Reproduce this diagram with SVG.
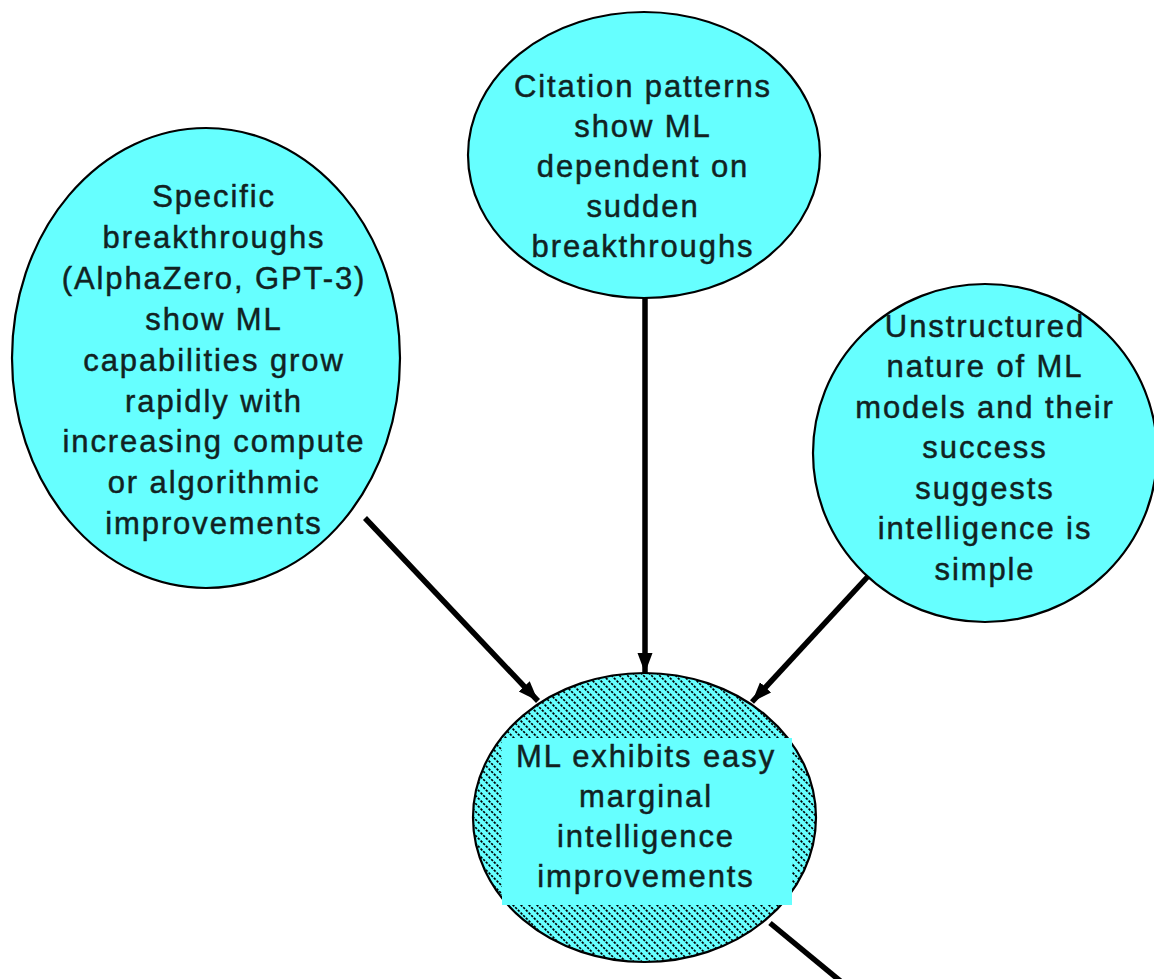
<svg xmlns="http://www.w3.org/2000/svg" width="1154" height="979" viewBox="0 0 1154 979">
<style>
.node{fill:#66ffff;stroke:#000;stroke-width:2.2}
.lbl{font-family:"Liberation Sans",Arial,sans-serif;font-size:31px;letter-spacing:1.9px;fill:#112222;stroke:#112222;stroke-width:0.45;text-anchor:middle}
.conn{stroke:#000;stroke-width:5.5;fill:none}
</style>
<defs>
<pattern id="hatch" patternUnits="userSpaceOnUse" width="8" height="8">
<rect width="8" height="8" fill="#66ffff"/>
<path d="M-2,-2 L10,10 M-2,6 L2,10 M6,-2 L10,2" stroke="#000" stroke-width="1.7" stroke-dasharray="2.4,1.3"/>
</pattern>
<marker id="arr" markerUnits="userSpaceOnUse" markerWidth="22" markerHeight="22" viewBox="0 0 22 22" refX="20" refY="11" orient="auto">
<path d="M0,3.5 L20,11 L0,18.5 Z" fill="#000"/>
</marker>
</defs>
<rect width="1154" height="979" fill="#fff"/>
<g id="connectors">
<line class="conn" x1="365" y1="518" x2="538" y2="701" marker-end="url(#arr)"/>
<line class="conn" x1="645" y1="298" x2="645" y2="673" marker-end="url(#arr)"/>
<line class="conn" x1="872" y1="572" x2="752" y2="702" marker-end="url(#arr)"/>
<line class="conn" x1="770" y1="923" x2="850" y2="989"/>
</g>
<g id="n-left">
<ellipse class="node" cx="206" cy="358" rx="194" ry="230"/>
<text class="lbl"><tspan x="214" y="207">Specific</tspan><tspan x="214" y="248">breakthroughs</tspan><tspan x="214" y="289">(AlphaZero, GPT-3)</tspan><tspan x="214" y="330">show ML</tspan><tspan x="214" y="371">capabilities grow</tspan><tspan x="214" y="412">rapidly with</tspan><tspan x="214" y="452">increasing compute</tspan><tspan x="214" y="493">or algorithmic</tspan><tspan x="214" y="534">improvements</tspan></text>
</g>
<g id="n-top">
<ellipse class="node" cx="644" cy="155" rx="176" ry="143"/>
<text class="lbl"><tspan x="643" y="97">Citation patterns</tspan><tspan x="643" y="137">show ML</tspan><tspan x="643" y="177">dependent on</tspan><tspan x="643" y="217">sudden</tspan><tspan x="643" y="257">breakthroughs</tspan></text>
</g>
<g id="n-right">
<ellipse class="node" cx="985" cy="453" rx="172" ry="169"/>
<text class="lbl"><tspan x="985" y="337">Unstructured</tspan><tspan x="985" y="377">nature of ML</tspan><tspan x="985" y="418">models and their</tspan><tspan x="985" y="458">success</tspan><tspan x="985" y="499">suggests</tspan><tspan x="985" y="539">intelligence is</tspan><tspan x="985" y="580">simple</tspan></text>
</g>
<g id="n-bottom">
<ellipse cx="644.5" cy="817.5" rx="171.5" ry="144.5" fill="url(#hatch)" stroke="#000" stroke-width="2.2"/>
<rect x="502" y="738" width="290" height="167" fill="#66ffff"/>
<text class="lbl"><tspan x="646" y="767">ML exhibits easy</tspan><tspan x="646" y="807">marginal</tspan><tspan x="646" y="847">intelligence</tspan><tspan x="646" y="887">improvements</tspan></text>
</g>
</svg>
